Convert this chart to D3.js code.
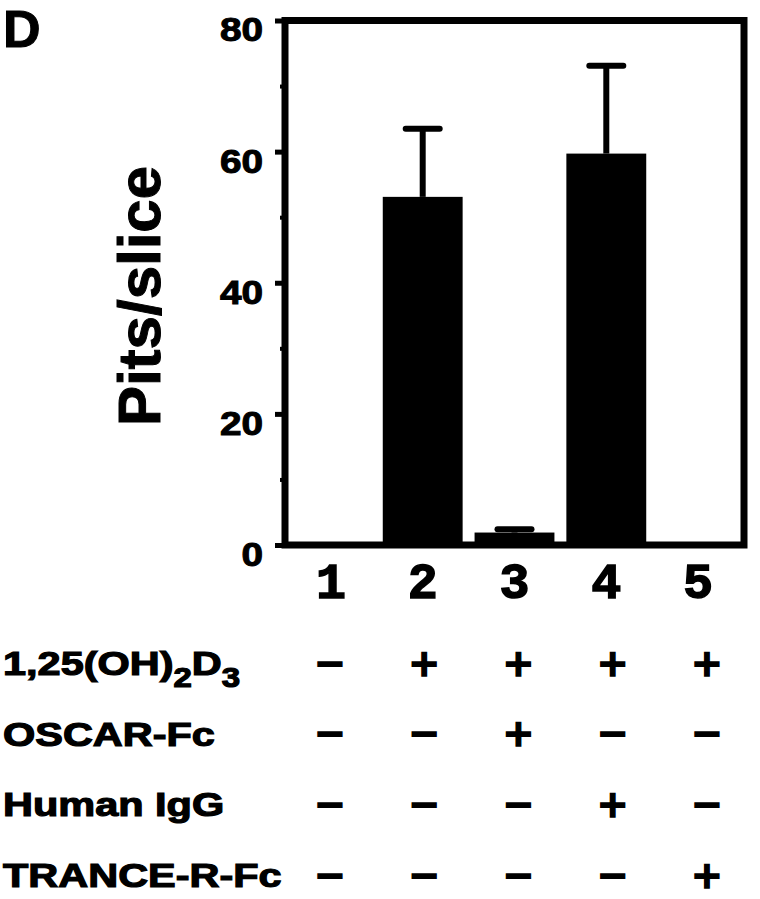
<!DOCTYPE html>
<html>
<head>
<meta charset="utf-8">
<script src="https://cdn.jsdelivr.net/npm/d3@7/dist/d3.min.js"></script>
<style>
  body { margin: 0; background: #fff; }
  svg { display: block; }
  .lbl { font-family: "Liberation Sans", Arial, Helvetica, sans-serif; font-weight: bold; fill: #000; }
  .sign { font-family: "DejaVu Sans", sans-serif; font-weight: bold; fill: #000; }
</style>
</head>
<body>
<svg id="chart"></svg>
<script>
// lanes and values
var lanes = ["1", "2", "3", "4", "5"];
var pits = [0, 53.1, 1.9, 59.7, 0];
var pitsErr = [0, 10.4, 0.5, 13.4, 0];
var yTicks = [0, 20, 40, 60, 80];
var yMinor = [10, 30, 50, 70];

var treatments = ["1,25(OH)2D3", "OSCAR-Fc", "Human IgG", "TRANCE-R-Fc"];
var signs = [
  ["-", "+", "+", "+", "+"],
  ["-", "-", "+", "-", "-"],
  ["-", "-", "-", "+", "-"],
  ["-", "-", "-", "-", "+"]
];

var W = 760, H = 899;
var plot = {left: 285, right: 744, top: 20.5, bottom: 545};

var svg = d3.select("#chart")
  .attr("width", W)
  .attr("height", H);

var x = d3.scaleBand()
  .domain(lanes)
  .range([plot.left, plot.right]);

var y = d3.scaleLinear()
  .domain([0, 80])
  .range([plot.bottom, plot.top]);

var barW = x.bandwidth() * 0.87;
var capW = 34;

// bars
svg.selectAll("rect.bar")
  .data(lanes)
  .enter().append("rect")
  .attr("class", "bar")
  .attr("x", function(d) { return x(d) + (x.bandwidth() - barW) / 2; })
  .attr("y", function(d, i) { return y(pits[i]); })
  .attr("width", barW)
  .attr("height", function(d, i) { return y(0) - y(pits[i]); })
  .style("fill", "#000");

// error bars (upper only)
var err = svg.selectAll("g.err")
  .data(lanes.filter(function(d, i) { return pitsErr[i] > 0; }))
  .enter().append("g")
  .attr("class", "err");

err.append("line")
  .attr("x1", function(d) { return x(d) + x.bandwidth() / 2; })
  .attr("x2", function(d) { return x(d) + x.bandwidth() / 2; })
  .attr("y1", function(d) { var i = lanes.indexOf(d); return y(pits[i]); })
  .attr("y2", function(d) { var i = lanes.indexOf(d); return y(pits[i] + pitsErr[i]); })
  .style("stroke", "#000")
  .style("stroke-width", 6);

err.append("line")
  .attr("x1", function(d) { return x(d) + x.bandwidth() / 2 - capW / 2; })
  .attr("x2", function(d) { return x(d) + x.bandwidth() / 2 + capW / 2; })
  .attr("y1", function(d) { var i = lanes.indexOf(d); return y(pits[i] + pitsErr[i]); })
  .attr("y2", function(d) { var i = lanes.indexOf(d); return y(pits[i] + pitsErr[i]); })
  .style("stroke", "#000")
  .style("stroke-width", 6)
  .style("stroke-linecap", "round");

// minor ticks
var yMinorAxis = d3.axisLeft(y)
  .tickValues(yMinor)
  .tickSize(5)
  .tickSizeOuter(0)
  .tickFormat("");

svg.append("g")
  .attr("transform", "translate(" + plot.left + ",0)")
  .call(yMinorAxis)
  .call(function(g) { g.select(".domain").remove(); })
  .selectAll("line")
  .style("stroke", "#000")
  .style("stroke-width", 4);

// major ticks + labels
var yAxis = d3.axisLeft(y)
  .tickValues(yTicks)
  .tickSize(10)
  .tickSizeOuter(0)
  .tickPadding(12);

var yg = svg.append("g")
  .attr("transform", "translate(" + plot.left + ",0)")
  .call(yAxis);
yg.select(".domain").remove();
yg.selectAll("line")
  .style("stroke", "#000")
  .style("stroke-width", 5);
yg.selectAll("text")
  .attr("class", "lbl")
  .style("font-size", "34px")
  .style("stroke", "#000")
  .style("stroke-width", 1)
  .attr("x", -22 / 1.14)
  .attr("dy", "0.6em")
  .attr("transform", "scale(1.14,1)");

// frame
svg.append("rect")
  .attr("x", plot.left)
  .attr("y", plot.top)
  .attr("width", plot.right - plot.left)
  .attr("height", plot.bottom - plot.top)
  .style("fill", "none")
  .style("stroke", "#000")
  .style("stroke-width", 7);

// lane numbers
var xAxis = d3.axisBottom(x)
  .tickSize(0)
  .tickPadding(0);

var xg = svg.append("g")
  .attr("transform", "translate(0," + plot.bottom + ")")
  .call(xAxis);
xg.select(".domain").remove();
xg.selectAll("text")
  .style("font-family", "'Liberation Mono', 'Courier New', monospace")
  .style("font-weight", "bold")
  .style("font-size", "50px")
  .style("fill", "#000")
  .style("stroke", "#000")
  .style("stroke-width", 1.5)
  .attr("y", 53)
  .attr("dy", 0);

// y title
svg.append("text")
  .attr("class", "lbl")
  .attr("text-anchor", "middle")
  .attr("transform", "translate(160,296) rotate(-90)")
  .style("font-size", "60px")
  .style("stroke", "#000")
  .style("stroke-width", 1)
  .text("Pits/slice");

// panel letter
svg.append("text")
  .attr("class", "lbl")
  .attr("x", 3)
  .attr("y", 47)
  .style("font-size", "52px")
  .style("stroke", "#000")
  .style("stroke-width", 1)
  .text("D");

// treatment table
var row = d3.scalePoint()
  .domain(treatments)
  .range([675, 887]);

var col = d3.scalePoint()
  .domain(lanes)
  .range([330, 707]);

var rows = svg.selectAll("g.row")
  .data(treatments)
  .enter().append("g")
  .attr("class", "row");

rows.append("text")
  .attr("class", "lbl")
  .attr("transform", function(d) { return "translate(3," + row(d) + ") scale(1.22,1)"; })
  .style("font-size", "34px")
  .style("stroke", "#000")
  .style("stroke-width", 1.2)
  .each(function(d) {
    var t = d3.select(this);
    if (d === "1,25(OH)2D3") {
      t.append("tspan").text("1,25(OH)");
      t.append("tspan").attr("dy", 12).style("font-size", "27px").text("2");
      t.append("tspan").attr("dy", -12).text("D");
      t.append("tspan").attr("dy", 12).style("font-size", "27px").text("3");
    } else {
      t.text(d);
    }
  });

rows.each(function(d, r) {
  d3.select(this).selectAll("text.sign")
    .data(signs[r])
    .enter().append("text")
    .attr("class", "sign")
    .attr("text-anchor", "middle")
    .attr("x", function(s, i) { return col(lanes[i]); })
    .attr("y", row(d) - 12)
    .attr("dy", "0.33em")
    .style("font-size", "38px")
    .style("stroke", "#000")
    .style("stroke-width", 1.5)
    .text(function(s) { return s === "+" ? "+" : "\u2212"; });
});
</script>
</body>
</html>
